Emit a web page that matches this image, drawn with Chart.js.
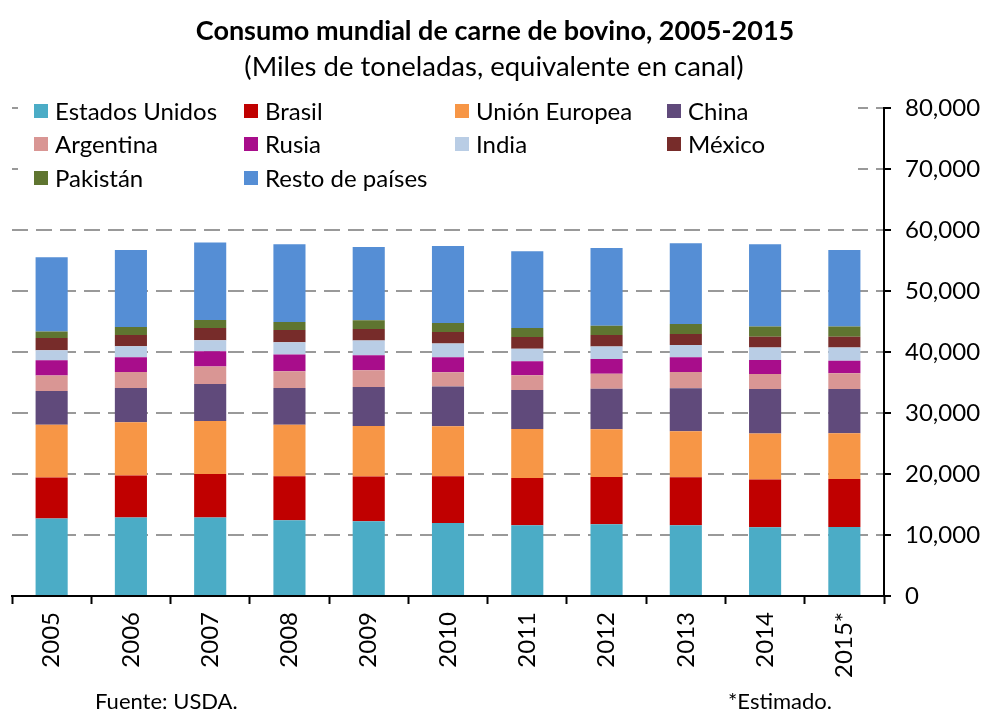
<!DOCTYPE html>
<html><head><meta charset="utf-8">
<script src="https://cdn.jsdelivr.net/npm/chart.js@4/dist/chart.umd.min.js"></script>
<style>html,body{margin:0;padding:0;background:#fff}canvas{display:block}</style>
</head><body>
<canvas id="c" width="984" height="710"></canvas>
<script>
const categories = ['2005','2006','2007','2008','2009','2010','2011','2012','2013','2014','2015*'];
const estadosUnidos = [12690, 12850, 12850, 12410, 12250, 11970, 11590, 11750, 11590, 11260, 11310];
const brasil        = [6720, 6890, 7150, 7210, 7330, 7660, 7750, 7750, 7870, 7820, 7870];
const unionEuropea  = [8660, 8740, 8690, 8440, 8300, 8200, 8030, 7820, 7540, 7540, 7490];
const china         = [5540, 5620, 6070, 6030, 6390, 6510, 6390, 6670, 7050, 7310, 7260];
const argentina     = [2520, 2620, 2850, 2740, 2740, 2340, 2410, 2460, 2670, 2460, 2570];
const rusia         = [2510, 2410, 2510, 2740, 2460, 2460, 2300, 2390, 2410, 2300, 2080];
const india         = [1640, 1800, 1800, 2020, 2400, 2250, 2080, 2080, 2020, 2030, 2140];
const mexico        = [2020, 1850, 2020, 2020, 1910, 1900, 1900, 1850, 1800, 1800, 1800];
const pakistan      = [1050, 1310, 1310, 1310, 1430, 1480, 1480, 1540, 1640, 1640, 1640];
const restoPaises   = [12180, 12620, 12690, 12740, 12020, 12620, 12570, 12720, 13230, 13490, 12560];
const yTicks = [0, 10000, 20000, 30000, 40000, 50000, 60000, 70000, 80000];

const titleText = 'Consumo mundial de carne de bovino, 2005-2015';
const subtitleText = '(Miles de toneladas, equivalente en canal)';
const sourceText = 'Fuente: USDA.';
const noteText = '*Estimado.';

const FONT = 'Lato, "Open Sans", sans-serif';

const series = [
  ['Estados Unidos', estadosUnidos, '#4BACC6'],
  ['Brasil', brasil, '#C00000'],
  ['Unión Europea', unionEuropea, '#F79646'],
  ['China', china, '#604A7B'],
  ['Argentina', argentina, '#D99694'],
  ['Rusia', rusia, '#A80D8B'],
  ['India', india, '#B9CDE5'],
  ['México', mexico, '#772C2A'],
  ['Pakistán', pakistan, '#5F7530'],
  ['Resto de países', restoPaises, '#558ED5']
];

const datasets = series.map(([label, data, color]) => ({
  label, data, backgroundColor: color, borderWidth: 0,
  barPercentage: 0.81, categoryPercentage: 0.5
}));

const legendCols = [34, 244, 455, 667];
const legendRows = [111, 144, 178];

const overlay = {
  id: 'overlay',
  afterDraw(chart) {
    const ctx = chart.ctx;
    ctx.save();
    ctx.fillStyle = '#fff';
    ctx.fillRect(18, 94, 840, 100);
    ctx.textBaseline = 'middle';
    ctx.textAlign = 'left';
    ctx.font = '24px ' + FONT;
    series.forEach(([label, , color], i) => {
      const col = i % 4, row = Math.floor(i / 4);
      const x = legendCols[col], y = legendRows[row];
      ctx.fillStyle = color;
      ctx.fillRect(x, y - 7, 14, 14);
      ctx.fillStyle = '#000';
      ctx.fillText(label, x + 21, y + 1);
    });
    ctx.textAlign = 'center';
    ctx.fillStyle = '#000';
    ctx.font = 'bold 27px ' + FONT;
    ctx.fillText(titleText, 495, 31);
    ctx.font = '27.5px ' + FONT;
    ctx.fillText(subtitleText, 494, 67);
    ctx.textBaseline = 'alphabetic';
    ctx.font = '22px ' + FONT;
    ctx.textAlign = 'left';
    ctx.fillText(sourceText, 95, 709);
    ctx.fillText(noteText, 728, 709);
    ctx.restore();
  }
};

new Chart(document.getElementById('c'), {
  type: 'bar',
  data: { labels: categories, datasets },
  options: {
    responsive: false,
    animation: false,
    devicePixelRatio: 1,
    layout: { padding: { top: 108, left: 12, right: 0, bottom: 0 } },
    plugins: { legend: { display: false }, title: { display: false }, tooltip: { enabled: false } },
    scales: {
      x: {
        stacked: true,
        afterFit(s) { s.height = 114; },
        grid: { display: true, offset: true, drawOnChartArea: false, drawTicks: true, tickLength: 8, tickColor: '#000', tickWidth: 2 },
        border: { display: true, color: '#000', width: 2 },
        ticks: { minRotation: 90, maxRotation: 90, autoSkip: false, padding: 8, color: '#000', font: { family: FONT, size: 24 } }
      },
      y: {
        stacked: true,
        position: 'right',
        min: 0, max: 80000,
        afterFit(s) { s.width = 100; },
        afterBuildTicks(s) { s.ticks = yTicks.map(v => ({ value: v })); },
        grid: {
          color: c => (c.tick && c.tick.value === 0) ? 'rgba(0,0,0,0)' : '#999999',
          lineWidth: 2, drawTicks: true, tickLength: 7, tickColor: '#000', tickWidth: 2
        },
        border: { display: true, color: '#000', width: 2, dash: [16, 8] },
        ticks: {
          padding: 14, color: '#000', font: { family: FONT, size: 24 },
          callback: v => Number(v).toLocaleString('en-US')
        }
      }
    }
  },
  plugins: [overlay]
});
</script>
</body></html>
